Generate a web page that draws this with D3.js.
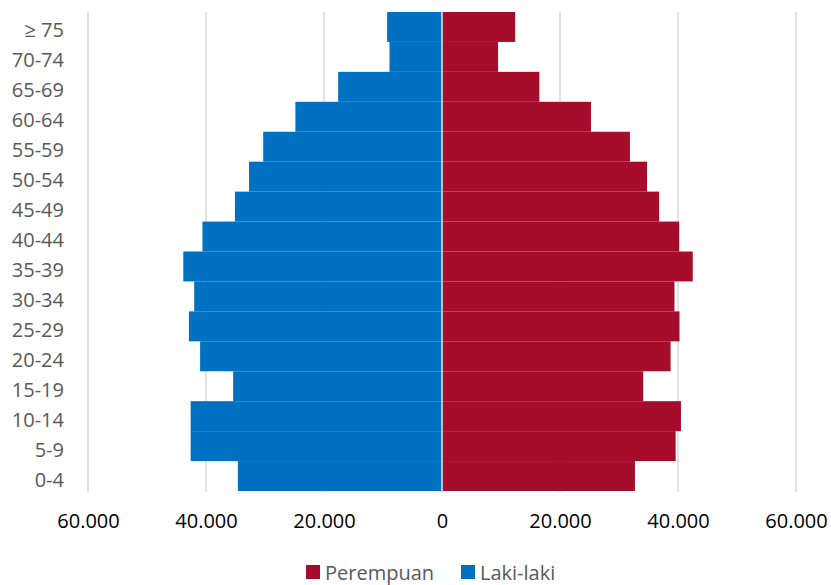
<!DOCTYPE html>
<html>
<head>
<meta charset="utf-8">
<script src="https://cdn.jsdelivr.net/npm/d3@7"></script>
<style>
  body { margin: 0; background: #fff; }
  svg { font-family: "Open Sans", sans-serif; }
</style>
</head>
<body>
<div id="chart"></div>
<script>
var width = 831,
  height = 585;

// age groups, bottom to top
var ageGroups = ["0-4", "5-9", "10-14", "15-19", "20-24", "25-29", "30-34", "35-39",
  "40-44", "45-49", "50-54", "55-59", "60-64", "65-69", "70-74", "≥ 75"];
var lakiLaki = [34600, 42600, 42600, 35400, 41000, 42900, 42000, 43850,
  40600, 35100, 32700, 30300, 24850, 17600, 8900, 9300];
var perempuan = [32700, 39600, 40500, 34100, 38750, 40250, 39400, 42500,
  40200, 36800, 34750, 31850, 25250, 16500, 9500, 12400];
var xTicks = [-60000, -40000, -20000, 0, 20000, 40000, 60000];
var seriesNames = ["Perempuan", "Laki-laki"];
var seriesColors = ["#A50D2B", "#0070C0"];

var margin = { top: 12, right: 35, bottom: 94, left: 88 };

var x = d3.scaleLinear()
  .domain([-60000, 60000])
  .range([margin.left, width - margin.right]);

var y = d3.scaleBand()
  .domain(ageGroups.slice().reverse())
  .range([margin.top, height - margin.bottom])
  .padding(0);

var svg = d3.select("#chart")
  .append("svg")
  .attr("width", width)
  .attr("height", height);

// gridlines
svg.append("g")
  .attr("class", "grid")
  .selectAll("line")
  .data(xTicks)
  .enter()
  .append("line")
  .attr("x1", function (d) { return x(d); })
  .attr("x2", function (d) { return x(d); })
  .attr("y1", margin.top)
  .attr("y2", height - margin.bottom + 1)
  .attr("stroke", "#d9d9d9")
  .attr("stroke-width", 1.5);

// male bars (left)
svg.append("g")
  .selectAll("rect")
  .data(ageGroups)
  .enter()
  .append("rect")
  .attr("x", function (d, i) { return x(-lakiLaki[i]); })
  .attr("y", function (d) { return y(d); })
  .attr("width", function (d, i) { return x(0) - 0.8 - x(-lakiLaki[i]); })
  .attr("height", y.bandwidth())
  .attr("fill", seriesColors[1]);

// female bars (right)
svg.append("g")
  .selectAll("rect")
  .data(ageGroups)
  .enter()
  .append("rect")
  .attr("x", x(0) + 0.8)
  .attr("y", function (d) { return y(d); })
  .attr("width", function (d, i) { return x(perempuan[i]) - x(0) - 0.8; })
  .attr("height", y.bandwidth())
  .attr("fill", seriesColors[0]);

// y labels
svg.append("g")
  .selectAll("text")
  .data(ageGroups)
  .enter()
  .append("text")
  .attr("x", 64)
  .attr("y", function (d) { return y(d) + y.bandwidth() / 2 + 3; })
  .attr("text-anchor", "end")
  .attr("dominant-baseline", "central")
  .attr("font-size", 20)
  .attr("fill", "#595959")
  .text(function (d) { return d; });

// x axis labels
var fmt = function (d) {
  return d3.format(",")(Math.abs(d)).replace(/,/g, ".");
};

var xAxis = d3.axisBottom(x)
  .tickValues(xTicks)
  .tickSize(0)
  .tickPadding(0)
  .tickFormat(fmt);

var gx = svg.append("g")
  .attr("transform", "translate(0," + 514 + ")")
  .call(xAxis);
gx.select(".domain").remove();
gx.selectAll("text")
  .attr("font-size", 20)
  .attr("font-family", "Open Sans, sans-serif")
  .attr("fill", "#000");

// legend
var legend = svg.append("g")
  .attr("transform", "translate(306,565)");

var items = legend.selectAll("g")
  .data(seriesNames)
  .enter()
  .append("g")
  .attr("transform", function (d, i) { return "translate(" + (i * 155) + ",0)"; });

items.append("rect")
  .attr("width", 14)
  .attr("height", 14)
  .attr("fill", function (d, i) { return seriesColors[i]; });

items.append("text")
  .attr("x", 19)
  .attr("y", 7)
  .attr("dominant-baseline", "central")
  .attr("font-size", 20)
  .attr("fill", "#595959")
  .text(function (d) { return d; });
</script>
</body>
</html>
